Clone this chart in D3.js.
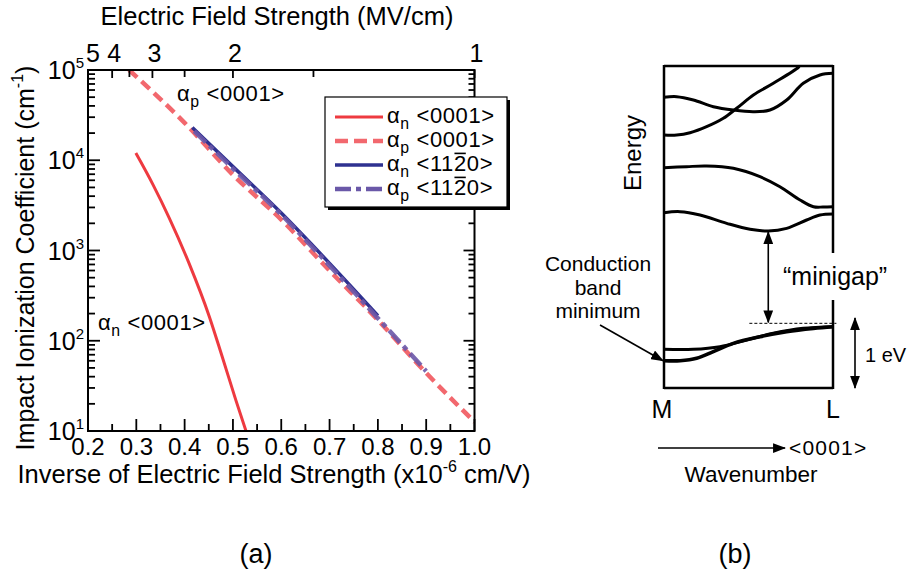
<!DOCTYPE html>
<html><head><meta charset="utf-8">
<script src="https://cdn.jsdelivr.net/npm/d3@7"></script>
<style>
body{margin:0;background:#fff}
svg{display:block}
text{font-family:"Liberation Sans",Arial,Helvetica,sans-serif;fill:#000}
</style>
</head><body>
<svg id="c" width="918" height="572"></svg>
<script>
// ---------------- Panel (a) data ----------------
const xTicks = [0.2,0.3,0.4,0.5,0.6,0.7,0.8,0.9,1.0];
const xMinorTicks = [0.25,0.35,0.45,0.55,0.65,0.75,0.85,0.95];
const xTickLabels = ["0.2","0.3","0.4","0.5","0.6","0.7","0.8","0.9","1.0"];
const eTicks = [5,4,3,2,1];
const eMinorTicks = [3.5,2.5,1.5];
const eTickLabels = ["5","4","3","2","1"];
const yDecades = [1e1,1e2,1e3,1e4,1e5];
const yExponents = ["1","2","3","4","5"];

// alpha_n <0001> (solid red)
const an0001X = [0.299,0.335,0.368,0.409,0.451,0.478,0.506,0.527];
const an0001V = [1.2e4,5.3e3,2.3e3,724,186,66,22,10];
// alpha_p <0001> (dashed pink)
const ap0001X = [0.285,0.4,0.5,0.6,0.7,0.8,0.9,1.0];
const ap0001V = [1e5,2.6e4,6.9e3,2.2e3,600,170,44,12.6];
// alpha_n <11-20> (solid navy)
const an1120X = [0.416,0.5,0.6,0.7,0.8];
const an1120V = [2.3e4,8.5e3,2.6e3,720,190];
// alpha_p <11-20> (dash-dot purple)
const ap1120X = [0.42,0.5,0.6,0.7,0.8,0.9];
const ap1120V = [2.1e4,8.1e3,2.5e3,680,178,46];

const seriesNames = ["n <0001>","p <0001>","n <1120>","p <1120>"];
const seriesColors = ["#ee3a40","#f2686e","#2e3190","#6a58a8"];

// ---------------- Panel (b) data ----------------
const band1K = [0,0.075,0.154,0.252,0.351,0.43,0.529,0.647,0.795,0.8];
const band1E = [3.614,3.614,3.647,3.733,3.853,3.996,4.186,4.353,4.58,4.6];
const band2K = [0,0.075,0.174,0.292,0.41,0.529,0.627,0.726,0.824,0.923,1];
const band2E = [4.153,4.162,4.114,4.019,3.971,3.947,3.971,4.114,4.353,4.471,4.495];
const band3K = [0,0.134,0.252,0.41,0.568,0.686,0.805,0.884,0.94,1];
const band3E = [3.147,3.162,3.171,3.138,3.019,2.876,2.686,2.59,2.585,2.59];
const band4K = [0,0.095,0.213,0.371,0.509,0.617,0.726,0.844,0.923,1];
const band4E = [2.505,2.519,2.471,2.352,2.267,2.243,2.281,2.4,2.471,2.486];
const bandAK = [0,0.174,0.331,0.489,0.647,0.824,1];
const bandAE = [0.552,0.552,0.59,0.686,0.781,0.852,0.876];
const bandBK = [0,0.095,0.193,0.292,0.41,0.568,0.726,0.884,1];
const bandBE = [0.39,0.39,0.424,0.519,0.638,0.733,0.805,0.852,0.876];
const minigapTopE = 0.924;

// ---------------- drawing ----------------
const svg = d3.select("#c");

const L = 88, R = 474.5, T = 70, B = 431;
const x = d3.scaleLinear().domain([0.2,1.0]).range([L,R]);
const y = d3.scaleLog().domain([10,1e5]).range([B,T]);

const defs = svg.append("defs");
defs.append("clipPath").attr("id","clipA").append("rect")
  .attr("x",L).attr("y",T).attr("width",R-L).attr("height",B-T);
defs.append("marker").attr("id","arr").attr("viewBox","0 0 12 9")
  .attr("refX",11).attr("refY",4.5).attr("markerUnits","userSpaceOnUse")
  .attr("markerWidth",13).attr("markerHeight",10).attr("orient","auto-start-reverse")
  .append("path").attr("d","M0,0 L12,4.5 L0,9 z").attr("fill","#000");

// series lines
const gA = svg.append("g").attr("clip-path","url(#clipA)");
const lineA = d3.line().x(d=>x(d[0])).y(d=>y(d[1])).curve(d3.curveMonotoneX);
function zip(a,b){return a.map((v,i)=>[v,b[i]]);}
gA.append("path").attr("d",lineA(zip(ap0001X,ap0001V))).attr("fill","none")
  .attr("stroke",seriesColors[1]).attr("stroke-width",4.5).attr("stroke-dasharray","11,6");
gA.append("path").attr("d",lineA(zip(an0001X,an0001V))).attr("fill","none")
  .attr("stroke",seriesColors[0]).attr("stroke-width",3);
gA.append("path").attr("d",lineA(zip(an1120X,an1120V))).attr("fill","none")
  .attr("stroke",seriesColors[2]).attr("stroke-width",3.5);
gA.append("path").attr("d",lineA(zip(ap1120X,ap1120V))).attr("fill","none")
  .attr("stroke",seriesColors[3]).attr("stroke-width",4.5).attr("stroke-dasharray","16,5,5,5").attr("opacity",0.9);

// frame
svg.append("rect").attr("x",L).attr("y",T).attr("width",R-L).attr("height",B-T)
  .attr("fill","none").attr("stroke","#000").attr("stroke-width",2);

// ticks
const tk = svg.append("g").attr("stroke","#000").attr("stroke-width",1.8);
xTicks.forEach(v=>tk.append("line").attr("x1",x(v)).attr("x2",x(v)).attr("y1",B).attr("y2",B-12));
xMinorTicks.forEach(v=>tk.append("line").attr("x1",x(v)).attr("x2",x(v)).attr("y1",B).attr("y2",B-7));
eTicks.forEach(v=>tk.append("line").attr("x1",x(1/v)).attr("x2",x(1/v)).attr("y1",T).attr("y2",T+8));
eMinorTicks.forEach(v=>tk.append("line").attr("x1",x(1/v)).attr("x2",x(1/v)).attr("y1",T).attr("y2",T+7));
yDecades.forEach((d,i)=>{
  tk.append("line").attr("x1",L).attr("x2",L+12).attr("y1",y(d)).attr("y2",y(d));
  tk.append("line").attr("x1",R).attr("x2",R-11).attr("y1",y(d)).attr("y2",y(d));
  if(i<yDecades.length-1){
    for(let m=2;m<=9;m++){
      const yy=y(m*d);
      tk.append("line").attr("x1",L).attr("x2",L+7).attr("y1",yy).attr("y2",yy);
      tk.append("line").attr("x1",R).attr("x2",R-6).attr("y1",yy).attr("y2",yy);
    }
  }
});

// tick labels
xTicks.forEach((v,i)=>svg.append("text").attr("x",x(v)).attr("y",455)
  .attr("text-anchor","middle").attr("font-size",24).text(xTickLabels[i]));
eTicks.forEach((v,i)=>svg.append("text").attr("x",x(1/v)+(v===5?5:2)).attr("y",62)
  .attr("text-anchor","middle").attr("font-size",25).text(eTickLabels[i]));
yDecades.forEach((d,i)=>{
  const t=svg.append("text").attr("x",84).attr("y",y(d)+9).attr("text-anchor","end").attr("font-size",25);
  t.append("tspan").text("10");
  t.append("tspan").attr("dy",-11).attr("font-size",15).text(yExponents[i]);
});

// axis titles
svg.append("text").attr("x",277).attr("y",25).attr("text-anchor","middle")
  .attr("font-size",25.5).text("Electric Field Strength (MV/cm)");
const bt = svg.append("text").attr("x",274).attr("y",483).attr("text-anchor","middle").attr("font-size",25.5);
bt.append("tspan").text("Inverse of Electric Field Strength (x10");
bt.append("tspan").attr("dy",-11).attr("font-size",16).text("-6");
bt.append("tspan").attr("dy",11).text(" cm/V)");
const lt = svg.append("text").attr("transform","translate(34,258) rotate(-90)")
  .attr("text-anchor","middle").attr("font-size",25);
lt.append("tspan").text("Impact Ionization Coefficient (cm");
lt.append("tspan").attr("dy",-11).attr("font-size",16).text("-1");
lt.append("tspan").attr("dy",11).text(")");

// alpha labels helper
function alphaLabel(g, x0, y0, sub, code, fs){
  const t = g.append("text").attr("x",x0).attr("y",y0).attr("font-size",fs).attr("letter-spacing",0.6);
  t.append("tspan").text("α");
  t.append("tspan").attr("dy",6).attr("font-size",fs*0.72).text(sub);
  t.append("tspan").attr("dy",-6).text("\u00a0<");
  if(code==="1120"){
    t.append("tspan").text("11");
    const two = t.append("tspan").text("2");
    t.append("tspan").text("0>");
    const bb = two.node().getBBox();
    g.append("line").attr("x1",bb.x+0.5).attr("x2",bb.x+bb.width-1)
      .attr("y1",y0-fs*0.8).attr("y2",y0-fs*0.8).attr("stroke","#000").attr("stroke-width",1.6);
  } else {
    t.append("tspan").text(code+">");
  }
  return t;
}
alphaLabel(svg,177,101,"p","0001",22);
alphaLabel(svg,98,330,"n","0001",22);

// legend
svg.append("rect").attr("x",328).attr("y",100).attr("width",182).attr("height",110).attr("fill","#000");
svg.append("rect").attr("x",325).attr("y",97).attr("width",182).attr("height",110)
  .attr("fill","#fff").attr("stroke","#000").attr("stroke-width",1.2);
const legStyles = [
  {w:3,dash:null},{w:4.5,dash:"13,6"},{w:3.5,dash:null},{w:4.5,dash:"16,5,5,5"}
];
seriesNames.forEach((n,i)=>{
  const cy = 117 + i*24;
  const ln = svg.append("line").attr("x1",335).attr("x2",383).attr("y1",cy).attr("y2",cy)
    .attr("stroke",seriesColors[i]).attr("stroke-width",legStyles[i].w);
  if(legStyles[i].dash) ln.attr("stroke-dasharray",legStyles[i].dash);
  alphaLabel(svg,387,cy+6,n[0],n.slice(3,7),22);
});

// ---------------- Panel (b) ----------------
const bL=664, bR=833, bT=66, bB=388;
const kx = d3.scaleLinear().domain([0,1]).range([bL,bR]);
const ey = d3.scaleLinear().domain([0,4.6]).range([bB,bT]);
const gB = svg.append("g");
const lineB = d3.line().x(d=>kx(d[0])).y(d=>ey(d[1])).curve(d3.curveCatmullRom.alpha(0.5));
[[band1K,band1E],[band2K,band2E],[band3K,band3E],[band4K,band4E],[bandAK,bandAE],[bandBK,bandBE]]
 .forEach((b,i)=>gB.append("path").attr("d",lineB(zip(b[0],b[1]))).attr("fill","none")
   .attr("stroke","#000").attr("stroke-width",i===5?3.6:3));
// frame with gap on right for label
const fr = svg.append("g").attr("stroke","#000").attr("stroke-width",2.5).attr("fill","none");
fr.append("line").attr("x1",bL).attr("x2",bL).attr("y1",bT-1).attr("y2",bB+1);
fr.append("line").attr("x1",bL).attr("x2",bR).attr("y1",bT).attr("y2",bT);
fr.append("line").attr("x1",bL).attr("x2",bR).attr("y1",bB).attr("y2",bB);
fr.append("line").attr("x1",bR).attr("x2",bR).attr("y1",bT-1).attr("y2",253);
fr.append("line").attr("x1",bR).attr("x2",bR).attr("y1",300).attr("y2",bB+1);

// dashed line at top of conduction band
svg.append("line").attr("x1",kx(0.505)).attr("x2",kx(1.02)).attr("y1",ey(minigapTopE)).attr("y2",ey(minigapTopE))
  .attr("stroke","#000").attr("stroke-width",1).attr("stroke-dasharray","3,2");
// minigap double arrow
svg.append("line").attr("x1",kx(0.617)).attr("x2",kx(0.617)).attr("y1",ey(2.243)+1).attr("y2",ey(minigapTopE)-1)
  .attr("stroke","#000").attr("stroke-width",1.6)
  .attr("marker-start","url(#arr)").attr("marker-end","url(#arr)");
// 1 eV double arrow
svg.append("line").attr("x1",855).attr("x2",855).attr("y1",ey(1.0)).attr("y2",ey(0))
  .attr("stroke","#000").attr("stroke-width",1.6)
  .attr("marker-start","url(#arr)").attr("marker-end","url(#arr)");
// conduction band minimum arrow
svg.append("line").attr("x1",600).attr("y1",325).attr("x2",kx(0)-1).attr("y2",ey(0.39))
  .attr("stroke","#000").attr("stroke-width",1.6).attr("marker-end","url(#arr)");
// wavenumber arrow
svg.append("line").attr("x1",658).attr("x2",785).attr("y1",448).attr("y2",448)
  .attr("stroke","#000").attr("stroke-width",1.6).attr("marker-end","url(#arr)");

// texts panel b
svg.append("text").attr("transform","translate(641,153) rotate(-90)").attr("text-anchor","middle")
  .attr("font-size",24).text("Energy");
[["Conduction",271],["band",295],["minimum",318]].forEach(d=>
  svg.append("text").attr("x",598).attr("y",d[1]).attr("text-anchor","middle").attr("font-size",21).text(d[0]));
svg.append("text").attr("x",783).attr("y",285).attr("font-size",25).text("\u201cminigap\u201d");
svg.append("text").attr("x",865).attr("y",362).attr("font-size",20).text("1 eV");
svg.append("text").attr("x",kx(0)-2).attr("y",418).attr("text-anchor","middle").attr("font-size",25).text("M");
svg.append("text").attr("x",kx(1)).attr("y",418).attr("text-anchor","middle").attr("font-size",25).text("L");
svg.append("text").attr("x",789).attr("y",455).attr("font-size",21).attr("letter-spacing",1.2).text("<0001>");
svg.append("text").attr("x",751).attr("y",482).attr("text-anchor","middle").attr("font-size",22.5).text("Wavenumber");

// panel labels
svg.append("text").attr("x",256).attr("y",563).attr("text-anchor","middle").attr("font-size",27).text("(a)");
svg.append("text").attr("x",735).attr("y",563).attr("text-anchor","middle").attr("font-size",27).text("(b)");
</script>
</body></html>
